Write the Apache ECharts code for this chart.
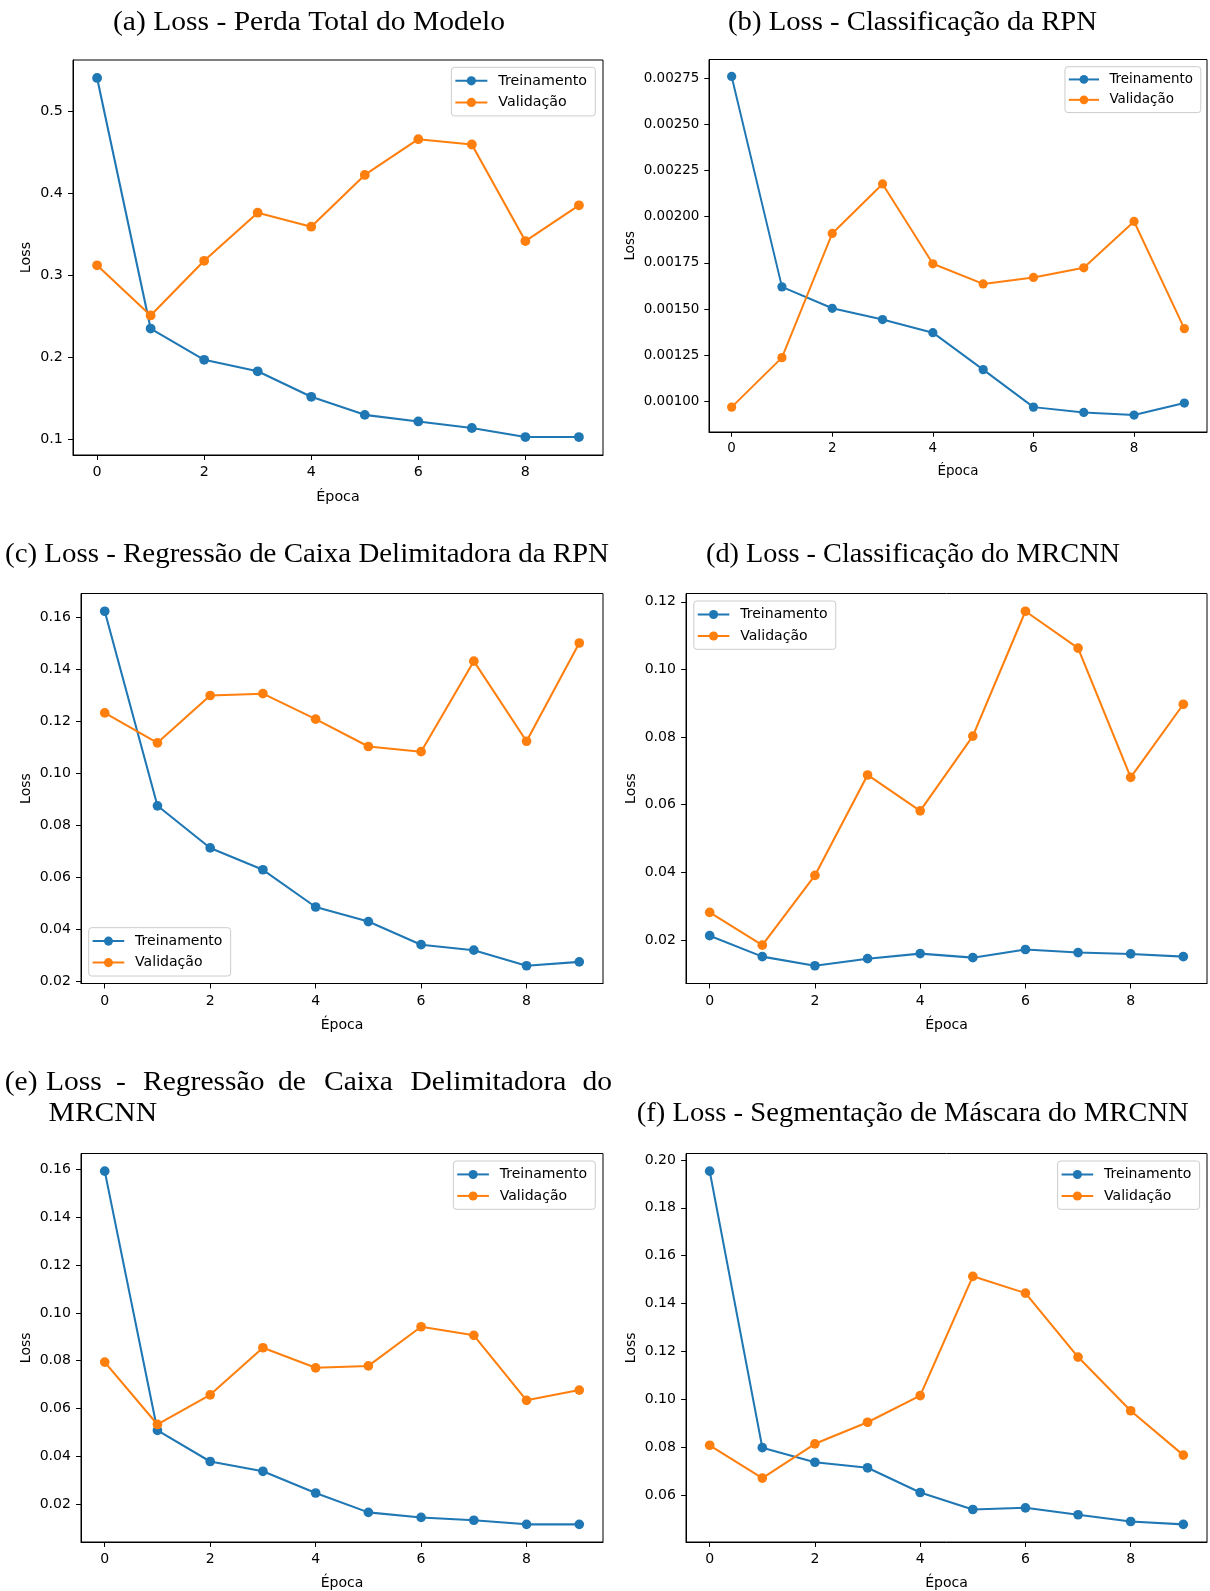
<!DOCTYPE html>
<html><head><meta charset="utf-8">
<script src="https://cdn.jsdelivr.net/npm/echarts@6/dist/echarts.min.js"></script>
<style>html,body{margin:0;padding:0;background:#fff}#c{width:1210px;height:1591px}</style>
</head><body><div id="c"></div>
<script>
// ---------------- data ----------------
const epochs = [0, 1, 2, 3, 4, 5, 6, 7, 8, 9];
const xTicks = [0, 2, 4, 6, 8];
const seriesNames = ['Treinamento', 'Validação'];

const totalTrain = [0.540, 0.235, 0.197, 0.183, 0.152, 0.130, 0.122, 0.114, 0.103, 0.103];
const totalVal   = [0.312, 0.251, 0.3175, 0.376, 0.359, 0.422, 0.4655, 0.459, 0.3415, 0.385];
const totalTicks = [0.1, 0.2, 0.3, 0.4, 0.5];

const rpnClsTrain = [0.002759, 0.001620, 0.001504, 0.001443, 0.001372, 0.001172, 0.000969, 0.000940, 0.000926, 0.000991];
const rpnClsVal   = [0.000969, 0.001237, 0.001909, 0.002177, 0.001745, 0.001636, 0.001671, 0.001723, 0.001974, 0.001394];
const rpnClsTicks = [0.00100, 0.00125, 0.00150, 0.00175, 0.00200, 0.00225, 0.00250, 0.00275];

const rpnBoxTrain = [0.1622, 0.0874, 0.0712, 0.0628, 0.0485, 0.0429, 0.0340, 0.0319, 0.0259, 0.0274];
const rpnBoxVal   = [0.1231, 0.1116, 0.1298, 0.1305, 0.1207, 0.1102, 0.1082, 0.1430, 0.1122, 0.1500];
const rpnBoxTicks = [0.02, 0.04, 0.06, 0.08, 0.10, 0.12, 0.14, 0.16];

const mrClsTrain = [0.0213, 0.0151, 0.0124, 0.0145, 0.0160, 0.0148, 0.0172, 0.0163, 0.0159, 0.0151];
const mrClsVal   = [0.0282, 0.0185, 0.0391, 0.0688, 0.0582, 0.0803, 0.1172, 0.1063, 0.0681, 0.0897];
const mrClsTicks = [0.02, 0.04, 0.06, 0.08, 0.10, 0.12];

const mrBoxTrain = [0.1593, 0.0508, 0.0378, 0.0337, 0.0246, 0.0165, 0.0144, 0.0132, 0.0115, 0.0115];
const mrBoxVal   = [0.0794, 0.0533, 0.0657, 0.0854, 0.0770, 0.0778, 0.0942, 0.0906, 0.0634, 0.0677];
const mrBoxTicks = [0.02, 0.04, 0.06, 0.08, 0.10, 0.12, 0.14, 0.16];

const maskTrain = [0.1953, 0.0799, 0.0738, 0.0715, 0.0612, 0.0541, 0.0548, 0.0519, 0.0491, 0.0479];
const maskVal   = [0.0809, 0.0672, 0.0815, 0.0905, 0.1016, 0.1514, 0.1444, 0.1177, 0.0953, 0.0768];
const maskTicks = [0.06, 0.08, 0.10, 0.12, 0.14, 0.16, 0.18, 0.20];

const titleA = '(a) Loss - Perda Total do Modelo';
const titleB = '(b) Loss - Classificação da RPN';
const titleC = '(c) Loss - Regressão de Caixa Delimitadora da RPN';
const titleD = '(d) Loss - Classificação do MRCNN';
const titleE1 = ['(e)', 'Loss', '-', 'Regressão', 'de', 'Caixa', 'Delimitadora', 'do'];
const titleE2 = 'MRCNN';
const titleF = '(f) Loss - Segmentação de Máscara do MRCNN';
const xName = 'Época';
const yName = 'Loss';

// ---------------- layout / style ----------------
const BLUE = '#1f77b4', ORANGE = '#ff7f0e';
const SANS = '"DejaVu Sans", sans-serif';
const SERIF = '"Liberation Serif", serif';
const FS = 14.25;   // sans text size of panel (a); other panels are scaled copies
const TFS = 26.5;

const panels = [
  {train: totalTrain, val: totalVal, ticks: totalTicks, dec: 1, s: 1.0, box: [73, 60, 603, 455], yGap: 40, xGap: 35,
   legend: {right: 614.7, top: 67.3}},
  {train: rpnClsTrain, val: rpnClsVal, ticks: rpnClsTicks, dec: 5, s: 0.944, box: [709, 59.5, 1207, 432], yGap: 72, xGap: 33,
   legend: {right: 9.2, top: 66.7}},
  {train: rpnBoxTrain, val: rpnBoxVal, ticks: rpnBoxTicks, dec: 2, s: 0.987, box: [81, 593.5, 603, 983.5], yGap: 48, xGap: 34.5,
   legend: {left: 88.7, top: 927.7}},
  {train: mrClsTrain, val: mrClsVal, ticks: mrClsTicks, dec: 2, s: 0.987, box: [686, 593.5, 1207, 983.5], yGap: 48, xGap: 34.5,
   legend: {left: 693.8, top: 601}},
  {train: mrBoxTrain, val: mrBoxVal, ticks: mrBoxTicks, dec: 2, s: 0.987, box: [81, 1153.5, 603, 1542.5], yGap: 48, xGap: 34,
   legend: {right: 614.7, top: 1161}},
  {train: maskTrain, val: maskVal, ticks: maskTicks, dec: 2, s: 0.987, box: [686, 1153.5, 1207, 1542.5], yGap: 48, xGap: 34,
   legend: {right: 10.4, top: 1161}}
];

const grids = [], xAxes = [], yAxes = [], series = [], legends = [];
const xLo = Math.min(...epochs), xHi = Math.max(...epochs), xPad = (xHi - xLo) * 0.05;

panels.forEach((p, i) => {
  const [l, t, r, b] = p.box;
  const s = p.s, fs = FS * s;
  grids.push({left: l, top: t, width: r - l, height: b - t, show: true,
    borderColor: '#000', borderWidth: 1, backgroundColor: 'transparent'});
  const all = p.train.concat(p.val);
  const lo = Math.min(...all), hi = Math.max(...all), pad = (hi - lo) * 0.05;
  const common = {
    gridIndex: i, type: 'value',
    axisLine: {show: true, onZero: false, lineStyle: {color: '#000', width: 1}},
    splitLine: {show: false},
    nameLocation: 'middle',
    nameTextStyle: {fontFamily: SANS, fontSize: fs, color: '#000'}
  };
  xAxes.push(Object.assign({}, common, {
    min: xLo - xPad, max: xHi + xPad, name: xName, nameGap: p.xGap,
    axisTick: {show: true, length: 5 * s, customValues: xTicks, lineStyle: {color: '#000', width: 1}},
    axisLabel: {customValues: xTicks, margin: 10.5 * s, fontFamily: SANS, fontSize: fs, color: '#000',
      formatter: v => String(v)}
  }));
  yAxes.push(Object.assign({}, common, {
    min: lo - pad, max: hi + pad, name: yName, nameRotate: 90, nameGap: p.yGap,
    axisTick: {show: true, length: 5 * s, customValues: p.ticks, lineStyle: {color: '#000', width: 1}},
    axisLabel: {customValues: p.ticks, margin: 10.2 * s, fontFamily: SANS, fontSize: fs, color: '#000',
      formatter: v => Number(v).toFixed(p.dec)}
  }));
  [[p.train, BLUE, seriesNames[0]], [p.val, ORANGE, seriesNames[1]]].forEach(([vals, col, nm], k) => {
    series.push({
      type: 'line', name: nm, xAxisIndex: i, yAxisIndex: i,
      data: epochs.map((e, j) => [e, vals[j]]),
      symbol: 'circle', symbolSize: 9.8 * s, showAllSymbol: true,
      lineStyle: {color: col, width: 2.1 * s},
      itemStyle: {color: col},
      emphasis: {disabled: true}, z: 2 + k
    });
  });
  legends.push(Object.assign({
    orient: 'vertical', data: seriesNames.slice(), selectedMode: false,
    itemWidth: 32 * s, itemHeight: 11.5 * s, itemGap: 7.6 * s,
    padding: [6.5 * s, 8.3 * s, 6.5 * s, 3 * s],
    backgroundColor: 'rgba(255,255,255,0.8)', borderColor: '#cccccc', borderWidth: 1, borderRadius: 3,
    textStyle: {fontFamily: SANS, fontSize: fs, color: '#000', lineHeight: 14 * s,
      padding: [0, 0, 0, 11 * s - 5]}
  }, p.legend));
});

// ---------------- titles (serif, stretched horizontally to match the typeset width) ----------------
const mctx = document.createElement('canvas').getContext('2d');
mctx.font = TFS + 'px "Liberation Serif"';
const tw = s => mctx.measureText(s).width;
const MID = 0.3375 * TFS; // baseline -> em middle
const graphics = [];
function centered(text, cx, baseline, width) {
  graphics.push({type: 'text', x: cx, y: baseline - MID, scaleX: width / tw(text), silent: true,
    style: {text, font: TFS + 'px ' + SERIF, fill: '#000', align: 'center', verticalAlign: 'middle',
      textAlign: 'center', textVerticalAlign: 'middle'}});
}
function leftText(text, x, baseline, scale) {
  graphics.push({type: 'text', x: x, y: baseline - MID, scaleX: scale, silent: true,
    style: {text, font: TFS + 'px ' + SERIF, fill: '#000', align: 'left', verticalAlign: 'middle',
      textAlign: 'left', textVerticalAlign: 'middle'}});
}
centered(titleA, 309, 32, 392);
centered(titleB, 912.5, 32, 369);
centered(titleC, 307, 564, 604);
centered(titleD, 913, 564, 414);
centered(titleF, 912.7, 1123, 552);
const sE = 392 / tw(titleA);
const eStarts = [4.7, 46, 116, 143, 278, 324, 410.5, 582.5];
titleE1.forEach((w, k) => leftText(w, eStarts[k], 1092, sE));
leftText(titleE2, 48.6, 1123, sE);

const chart = echarts.init(document.getElementById('c'), null, {renderer: 'canvas'});
chart.setOption({
  animation: false,
  backgroundColor: '#ffffff',
  grid: grids, xAxis: xAxes, yAxis: yAxes, series: series, legend: legends,
  graphic: {elements: graphics}
});
</script></body></html>
